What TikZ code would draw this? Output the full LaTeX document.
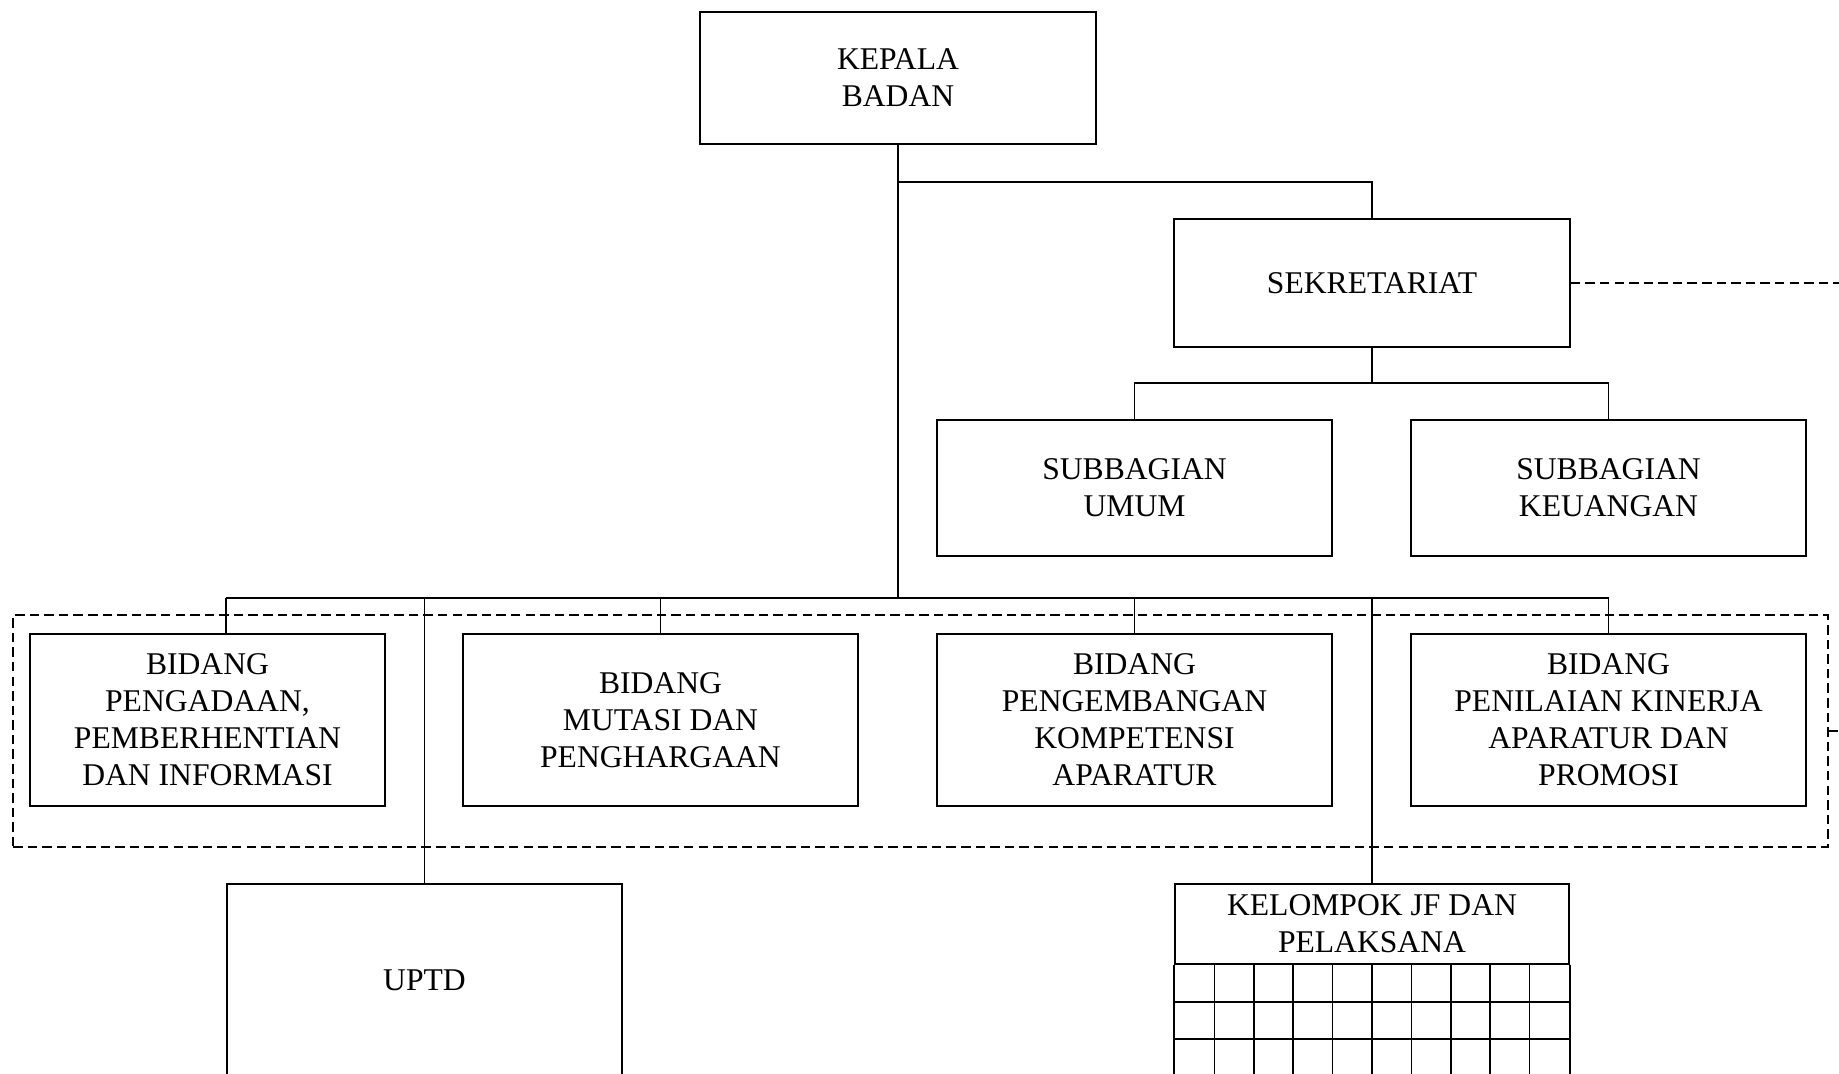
\documentclass[tikz,border=0pt]{standalone}
\usepackage{fontspec}
\setmainfont{Liberation Serif}
\tikzset{
	box/.style={draw, line width=0.9pt, inner sep=0pt, align=center, minimum width=7.9cm, font=\fontsize{18}{21}\selectfont},
	grpbox/.style={draw, line width=0.8pt, dash pattern=on 5.4pt off 2.9pt, inner sep=0pt},
	link/.style={line width=0.9pt},
	dotlink/.style={line width=0.8pt, dash pattern=on 5.4pt off 2.9pt}
}
\begin{document}
\begin{tikzpicture}[x=0.02cm, y=-0.02cm]
\useasboundingbox (0,0) rectangle (1839,1074);
% group of bidang
\node[grpbox, minimum width=36.3cm, minimum height=4.64cm] (grp) at (920.5,731) {};
% top
\node[box, minimum width=7.92cm, minimum height=2.64cm] (kepala) at (898,78) {KEPALA\\BADAN};
\node[box, minimum width=7.92cm, minimum height=2.56cm] (sekre) at (1372,283) {SEKRETARIAT};
\node[box, minimum height=2.72cm] (subumum) at (1134.5,488) {SUBBAGIAN\\UMUM};
\node[box, minimum height=2.72cm] (subkeu) at (1608.5,488) {SUBBAGIAN\\KEUANGAN};
% bidang
\node[box, minimum width=7.1cm, minimum height=3.44cm] (bid1) at (207.5,720) {BIDANG\\PENGADAAN,\\PEMBERHENTIAN\\DAN INFORMASI};
\node[box, minimum height=3.44cm] (bid2) at (660.5,720) {BIDANG\\MUTASI DAN\\PENGHARGAAN};
\node[box, minimum height=3.44cm] (bid3) at (1134.5,720) {BIDANG\\PENGEMBANGAN\\KOMPETENSI\\APARATUR};
\node[box, minimum height=3.44cm] (bid4) at (1608.5,720) {BIDANG\\PENILAIAN KINERJA\\APARATUR DAN\\PROMOSI};
% bottom
\node[box, minimum height=3.84cm] (uptd) at (424.5,980) {UPTD};
\node[box, minimum width=7.88cm, minimum height=1.6cm] (jf) at (1372,924) {KELOMPOK JF DAN\\PELAKSANA};
\draw[link] (jf.south west) -- ++(0,130);
\draw[link] (jf.south east) -- ++(0,130);
\foreach \i in {1,...,9} {
	\pgfmathsetmacro{\x}{1175+\i*39.4}
	\draw[link] (\x,964) -- (\x,1090);
}
\foreach \y in {1002,1039,1077}
	\draw[link] (jf.west |- 0,\y) -- (jf.east |- 0,\y);
% connectors
\coordinate (hub) at (898,598);
\coordinate (fork) at (898,182);
\coordinate (subfork) at (1372,383);
\coordinate (left) at (226,598);
\coordinate (rim1) at (1845,283);
\coordinate (rim2) at (1845,731);
\draw[link] (kepala.south) -- (hub);
\draw[link] (fork) -| (sekre.north);
\draw[link] (sekre.south) -- (subfork);
\draw[link] (subumum.north) |- (subfork) -| (subkeu.north);
\draw[link] (left) -| (bid4.north);
\draw[link] (left) -- (left |- bid1.north);
\draw[link] (bid2.north) -- (bid2.north |- hub);
\draw[link] (bid3.north) -- (bid3.north |- hub);
\draw[link] (uptd.north) -- (uptd.north |- hub);
\draw[link] (jf.north) -- (jf.north |- hub);
\draw[dotlink] (sekre.east) -- (rim1);
\draw[dotlink] (grp.east) -- (rim2);
\end{tikzpicture}
\end{document}
